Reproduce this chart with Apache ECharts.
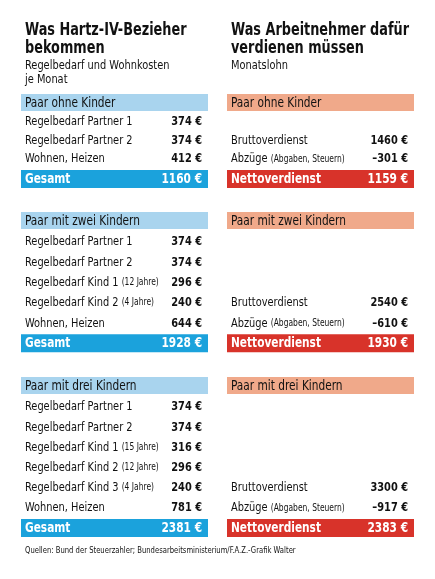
<!DOCTYPE html>
<html><head><meta charset="utf-8">
<script src="https://cdn.jsdelivr.net/npm/echarts@6/dist/echarts.min.js"></script>
<style>html,body{margin:0;background:#fff}#c{width:435px;height:579px}</style>
</head><body><div id="c"></div>
<script>
// Daten
var sections = ['Paar ohne Kinder', 'Paar mit zwei Kindern', 'Paar mit drei Kindern'];
var hartzLabels = [
	['Regelbedarf Partner 1', 'Regelbedarf Partner 2', 'Wohnen, Heizen'],
	['Regelbedarf Partner 1', 'Regelbedarf Partner 2', 'Regelbedarf Kind 1 |(12 Jahre)', 'Regelbedarf Kind 2 |(4 Jahre)', 'Wohnen, Heizen'],
	['Regelbedarf Partner 1', 'Regelbedarf Partner 2', 'Regelbedarf Kind 1 |(15 Jahre)', 'Regelbedarf Kind 2 |(12 Jahre)', 'Regelbedarf Kind 3 |(4 Jahre)', 'Wohnen, Heizen']
];
var hartzValues = [[374, 374, 412], [374, 374, 296, 240, 644], [374, 374, 316, 296, 240, 781]];
var hartzTotal = [1160, 1928, 2381];
var brutto = [1460, 2540, 3300];
var abzuege = [-301, -610, -917];
var netto = [1159, 1930, 2383];

var FONT = "'DejaVu Sans Condensed', 'Liberation Sans Narrow', 'Noto Sans', sans-serif";
var SX = 0.84;
var headerY = [94, 212, 377];
var firstRow = [122, 242, 407];
var rowGap = [18.5, 20.3, 20.2];
var L = 21, R = 227, W = 187;

function txt(x, y, s, o) {
	o = o || {};
	var parts = String(s).split('|');
	var t = parts.length > 1 ? '{a|' + parts[0] + '}{b|' + parts[1] + '}' : '{a|' + s + '}';
	return { type: 'text', x: x, y: y, scaleX: o.sx || SX, style: {
		text: t, fill: o.fill || '#111', font: (o.weight || 'normal') + ' ' + (o.size || 13) + 'px ' + FONT,
		align: o.align || 'left', verticalAlign: 'middle',
		rich: { a: { fontSize: o.size || 13, fontWeight: o.weight || 'normal', fontFamily: FONT, fill: o.fill || '#111' },
			b: { fontSize: 10, fontFamily: FONT, fill: '#111' } } } };
}
function bar(x, y, h, color) {
	return { type: 'rect', shape: { x: x, y: y, width: W, height: h }, style: { fill: color } };
}
function eur(v) { return (v < 0 ? '\u2013' + (-v) : v) + ' \u20ac'; }

var g = [];
g.push(txt(L + 4, 31, 'Was Hartz-IV-Bezieher', { size: 17, weight: 'bold' }));
g.push(txt(L + 4, 49, 'bekommen', { size: 17, weight: 'bold' }));
g.push(txt(L + 4, 66, 'Regelbedarf und Wohnkosten', { size: 13 }));
g.push(txt(L + 4, 80, 'je Monat', { size: 13 }));
g.push(txt(R + 4, 31, 'Was Arbeitnehmer dafür', { size: 17, weight: 'bold' }));
g.push(txt(R + 4, 49, 'verdienen müssen', { size: 17, weight: 'bold' }));
g.push(txt(R + 4, 66, 'Monatslohn', { size: 13 }));

sections.forEach(function (name, i) {
	var hy = headerY[i], gap = rowGap[i];
	var n = hartzLabels[i].length;
	g.push(bar(L, hy, 17, '#a9d4ee'));
	g.push(bar(R, hy, 17, '#f0a98a'));
	g.push(txt(L + 4, hy + 9, name, { size: 14 }));
	g.push(txt(R + 4, hy + 9, name, { size: 14 }));
	var y0 = firstRow[i];
	hartzLabels[i].forEach(function (lab, j) {
		var y = y0 + j * gap;
		g.push(txt(L + 4, y, lab, { size: 13 }));
		g.push(txt(L + W - 6, y, eur(hartzValues[i][j]), { size: 13, weight: 'bold', align: 'right' }));
	});
	var ty = y0 + (n - 1) * gap + 11;
	g.push(bar(L, ty, 18, '#1ba2dc'));
	g.push(bar(R, ty, 18, '#d8332a'));
	g.push(txt(L + 4, ty + 9, 'Gesamt', { size: 14, weight: 'bold', fill: '#fff' }));
	g.push(txt(L + W - 6, ty + 9, eur(hartzTotal[i]), { size: 14, weight: 'bold', fill: '#fff', align: 'right' }));
	g.push(txt(R + 4, ty + 9, 'Nettoverdienst', { size: 14, weight: 'bold', fill: '#fff' }));
	g.push(txt(R + W - 6, ty + 9, eur(netto[i]), { size: 14, weight: 'bold', fill: '#fff', align: 'right' }));
	var by = y0 + (n - 2) * gap, ay = y0 + (n - 1) * gap;
	g.push(txt(R + 4, by, 'Bruttoverdienst', { size: 13 }));
	g.push(txt(R + W - 6, by, eur(brutto[i]), { size: 13, weight: 'bold', align: 'right' }));
	g.push(txt(R + 4, ay, 'Abzüge |(Abgaben, Steuern)', { size: 13 }));
	g.push(txt(R + W - 6, ay, eur(abzuege[i]), { size: 13, weight: 'bold', align: 'right' }));
});
g.push(txt(L + 4, 551, 'Quellen: Bund der Steuerzahler; Bundesarbeitsministerium/F.A.Z.-Grafik Walter', { size: 9.5, sx: 0.8 }));

var chart = echarts.init(document.getElementById('c'));
chart.setOption({ animation: false, graphic: g });
</script></body></html>
